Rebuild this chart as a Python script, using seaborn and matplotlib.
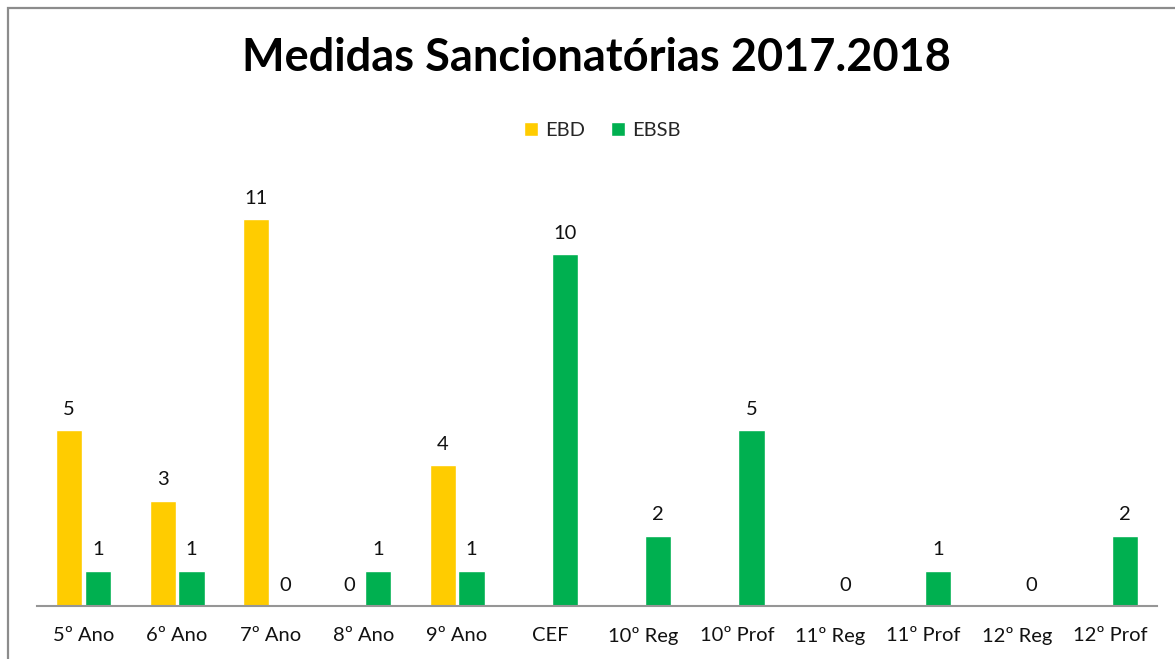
import numpy as np
import pandas as pd
import seaborn as sns
import matplotlib.pyplot as plt
from matplotlib.patches import Rectangle

CATEGORIES = [
    "5º Ano", "6º Ano", "7º Ano", "8º Ano", "9º Ano", "CEF",
    "10º Reg", "10º Prof", "11º Reg", "11º Prof", "12º Reg", "12º Prof",
]
EBD_VALUES = [5, 3, 11, 0, 4, np.nan, np.nan, np.nan, np.nan, np.nan, np.nan, np.nan]
EBSB_VALUES = [1, 1, 0, 1, 1, 10, 2, 5, 0, 1, 0, 2]
SERIES_NAMES = ["EBD", "EBSB"]
SERIES_COLORS = ["#FFCC00", "#00B050"]

TITLE = "Medidas Sancionatórias 2017.2018"


def build_dataframe() -> pd.DataFrame:
    frames = []
    for name, values in zip(SERIES_NAMES, [EBD_VALUES, EBSB_VALUES]):
        frames.append(pd.DataFrame({"Turma": CATEGORIES, "Valor": values, "Escola": name}))
    return pd.concat(frames, ignore_index=True)


def render(dataframe: pd.DataFrame) -> None:
    sns.set_style("white")
    plt.rcParams["font.family"] = ["Lato", "DejaVu Sans"]

    figure = plt.figure(figsize=(11.75, 6.59), dpi=100)
    axes = figure.add_axes([0.0315, 0.0804, 0.9532, 0.6404])

    sns.barplot(
        data=dataframe,
        x="Turma",
        y="Valor",
        hue="Escola",
        hue_order=SERIES_NAMES,
        order=CATEGORIES,
        palette=SERIES_COLORS,
        width=0.62,
        gap=0.1,
        saturation=1,
        errorbar=None,
        ax=axes,
    )

    for container in axes.containers:
        axes.bar_label(container, fmt="%g", padding=9, fontsize=14.5, color="#111111")

    axes.set_ylim(0, 12)
    axes.set_xlim(-0.5, len(CATEGORIES) - 0.5)
    axes.set_xlabel("")
    axes.set_ylabel("")
    axes.set_yticks([])
    axes.tick_params(axis="x", labelsize=14.5, pad=15, length=0, colors="#111111")
    for side in ["left", "right", "top"]:
        axes.spines[side].set_visible(False)
    axes.spines["bottom"].set_color("#969696")
    axes.spines["bottom"].set_linewidth(1.5)

    handles, labels = axes.get_legend_handles_labels()
    axes.legend(
        handles, labels,
        loc="center", bbox_to_anchor=(0.5125, 0.8025), bbox_transform=figure.transFigure,
        ncol=2, frameon=False, fontsize=14.5,
        handlelength=0.7, handleheight=0.7, handletextpad=0.35, columnspacing=1.3,
    )

    figure.text(0.508, 0.912, TITLE, ha="center", va="center",
                fontsize=32.5, fontweight="bold", color="black")

    figure.patches.append(Rectangle(
        (0.0065, -0.2), 1.2, 0.988 + 0.2, transform=figure.transFigure,
        fill=False, edgecolor="#8c8c8c", linewidth=1.6,
    ))

    figure.savefig("out.png", dpi=100, facecolor="white")


render(build_dataframe())
